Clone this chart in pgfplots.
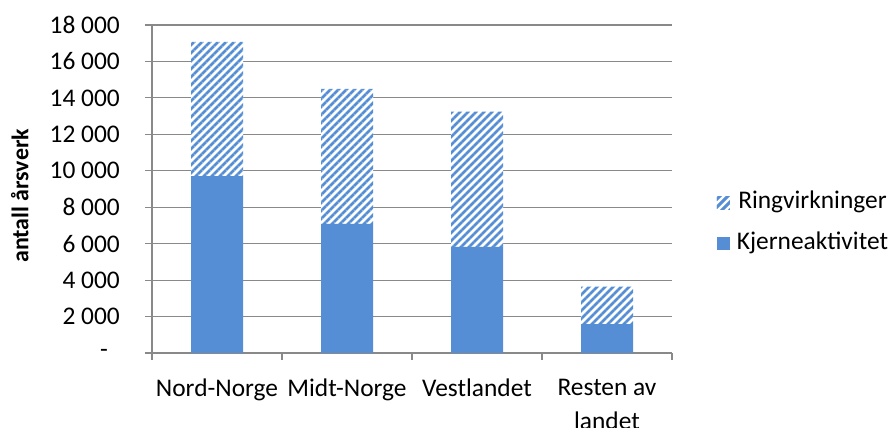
\documentclass[border=0pt]{standalone}
\usepackage{pgfplots}
\pgfplotsset{compat=1.18}
\usetikzlibrary{patterns.meta}
\usepackage{fontspec}
\setmainfont{Carlito}
\definecolor{barblue}{HTML}{558ED5}
\definecolor{gridgray}{HTML}{898989}
\begin{document}
\begin{tikzpicture}[font=\fontsize{25.5}{30}\selectfont]
\useasboundingbox (0,0) rectangle (896bp,428bp);
\begin{axis}[
  at={(152bp,75bp)}, anchor=south west,
  scale only axis, width=520bp, height=328bp,
  ybar stacked, bar width=0.4,
  xmin=-0.5, xmax=3.5, ymin=0, ymax=18000,
  scaled y ticks=false,
  xtick={0,1,2,3},
  xticklabels={Nord-Norge,Midt-Norge,Vestlandet,{Resten av\\landet}},
  xticklabel style={align=center, inner sep=0pt, yshift=-19bp, font=\fontsize{25.5}{34}\selectfont},
  major x tick style={draw=none},
  minor xtick={-0.5,0.5,1.5,2.5,3.5},
  minor tick length=7bp,
  ytick={0,2000,...,18000},
  yticklabels={{-\kern12bp},2~000,4~000,6~000,8~000,10~000,12~000,14~000,16~000,18~000},
  yticklabel style={inner sep=0pt, xshift=-25bp},
  major tick length=7bp,
  axis lines*=left,
  axis line style={gridgray, line width=1.2bp},
  every tick/.style={gridgray, line width=1.2bp},
  tick align=outside,
  ymajorgrids, grid style={gridgray, line width=1.2bp},
  ylabel={antall årsverk},
  every axis y label/.style={at={(axis description cs:-0.254,0.479)}, rotate=90, anchor=center, font=\fontsize{24}{28}\selectfont\bfseries},
  reverse legend,
  legend style={at={(axis description cs:1.086,0.395)}, anchor=west, draw=none, fill=none,
    row sep=18bp, inner sep=0pt,
    nodes={inner sep=0pt, text height=17bp, text depth=6bp},
    /tikz/every odd column/.append style={column sep=7bp}},
]
\addplot[fill=barblue, draw=none,
  legend image code/.code={\path[fill=barblue] (0bp,-6.5bp) rectangle (13bp,6.5bp);}]
  coordinates {(0,9710) (1,7080) (2,5830) (3,1590)};
\addlegendentry{Kjerneaktivitet}
\addplot[draw=none, fill=white,
  postaction={pattern={Lines[angle=45,distance=5.657bp,line width=2.8bp]}, pattern color=barblue},
  legend image code/.code={\path[fill=white, postaction={pattern={Lines[angle=45,distance=5.657bp,line width=2.8bp]}, pattern color=barblue}] (0bp,-6.5bp) rectangle (13bp,6.5bp);}]
  coordinates {(0,7370) (1,7410) (2,7410) (3,2050)};
\addlegendentry{Ringvirkninger}
\end{axis}
\end{tikzpicture}
\end{document}
